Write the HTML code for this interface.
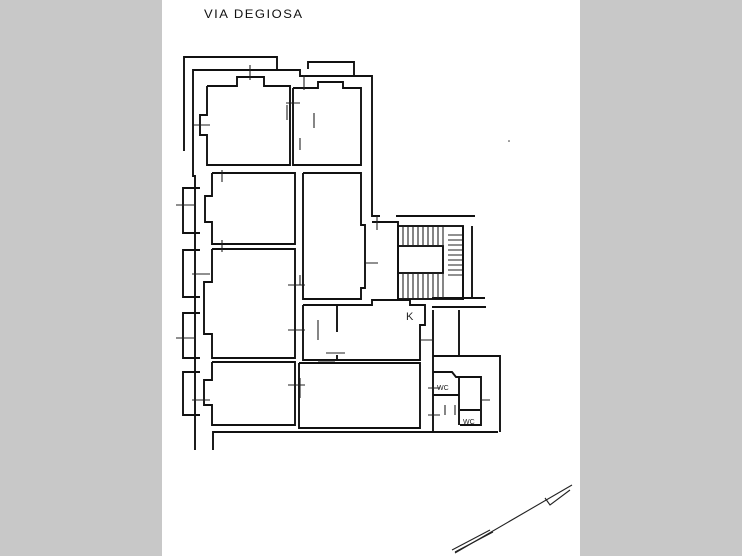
<!DOCTYPE html>
<html><head><meta charset="utf-8"><style>
html,body{margin:0;padding:0;width:742px;height:556px;overflow:hidden;background:#c8c8c8}
svg{display:block}
</style></head><body>
<svg width="742" height="556" viewBox="0 0 742 556" xmlns="http://www.w3.org/2000/svg">
<rect x="0" y="0" width="742" height="556" fill="#c8c8c8"/>
<rect x="162" y="0" width="418" height="556" fill="#fff"/>
<text x="204" y="18" font-family="Liberation Sans, sans-serif" font-size="13" fill="#111" letter-spacing="1.5" transform="scale(1,0.9) translate(0,2)">VIA DEGIOSA</text>
<g fill="none" stroke="#111" stroke-width="1.9">
<polyline points="184,151 184,57 277,57 277,70"/>
<polyline points="308,69 308,62 354,62 354,75"/>
<polyline points="195,450 195,176 193,176 193,70 300,70 300,76 372,76 372,216 380,216"/>
<polyline points="213,450 213,432 498,432"/>
<polyline points="200,188 183,188 183,233 200,233"/>
<polyline points="200,250 183,250 183,297 200,297"/>
<polyline points="200,313 183,313 183,358 200,358"/>
<polyline points="200,372 183,372 183,415 200,415"/>
<polyline points="207,86 237,86 237,77 264,77 264,86 290,86 290,165 207,165 207,135 200,135 200,115 207,115 207,86"/>
<polyline points="293,88 318,88 318,82 343,82 343,88 361,88 361,165 293,165 293,88"/>
<polyline points="212,173 295,173 295,244 212,244 212,222 205,222 205,196 212,196 212,173"/>
<polyline points="303,173 361,173 361,225 365,225 365,288 361,288 361,299 303,299 303,173"/>
<polyline points="212,249 295,249 295,358 212,358 212,334 204,334 204,282 212,282 212,249"/>
<polyline points="303,305 372,305 372,300 410,300 410,305 425,305 425,325 420,325 420,360 303,360 303,305"/>
<polyline points="212,362 295,362 295,425 212,425 212,405 204,405 204,380 212,380 212,362"/>
<polyline points="299,363 420,363 420,428 299,428 299,363"/>
<polyline points="372,222 398,222 398,300"/>
<polyline points="396,216 475,216"/>
<rect x="398" y="226" width="65" height="73"/>
<rect x="398" y="246" width="45" height="27"/>
<line x1="463" y1="226" x2="463" y2="300"/>
<line x1="472" y1="226" x2="472" y2="298"/>
<polyline points="432,298 485,298"/>
<polyline points="432,307 486,307"/>
<polyline points="433,310 433,432"/>
<line x1="459" y1="310" x2="459" y2="356"/>
<polyline points="433,356 500,356 500,432"/>
<polyline points="433,372 452,372 456,377 481,377 481,425 460,425"/>
<polyline points="433,395 459,395"/>
<polyline points="459,377 459,425"/>
<polyline points="460,410 480,410"/>
<line x1="337" y1="305" x2="337" y2="332"/>
<line x1="337" y1="355" x2="337" y2="361"/>
</g>
<g stroke="#222" stroke-width="1.1">
<path d="M403,227V246M408,227V246M413,227V246M418,227V246M423,227V246M428,227V246M433,227V246M438,227V246M443,227V246M403,273V298M408,273V298M413,273V298M418,273V298M423,273V298M428,273V298M433,273V298M438,273V298M443,273V298M448,235H462M448,240H462M448,245H462M448,250H462M448,255H462M448,260H462M448,265H462M448,270H462M448,275H462"/>
<path d="M250,65V80M287,105V120M286,103H300M304,75V90M194,125H210M222,170V182M222,240V252M176,205H196M192,274H210M176,338H196M192,400H210M300,138V150M300,275V285M288,285H305M288,330H305M288,385H305M300,378V398M314,113V128M318,320V340M318,361H335M326,353H345M366,263H378M377,216V230M420,340H434M428,388H440M428,415H440M480,400H490M445,405V415M455,405V415"/>
</g>
<text x="406" y="320" font-family="Liberation Sans, sans-serif" font-size="11" fill="#222">K</text>
<text x="437" y="390" font-family="Liberation Sans, sans-serif" font-size="7" fill="#222">WC</text>
<text x="463" y="424" font-family="Liberation Sans, sans-serif" font-size="7" fill="#222">WC</text>
<g fill="none" stroke="#222" stroke-width="1.1">
<line x1="455" y1="553" x2="572" y2="485"/>
<line x1="452" y1="550" x2="490" y2="530"/>
<line x1="455" y1="552" x2="493" y2="532"/>
<polyline points="545,498 550,505 570,490"/>
</g>
<circle cx="509" cy="141" r="0.8" fill="#333"/>
</svg>
</body></html>
